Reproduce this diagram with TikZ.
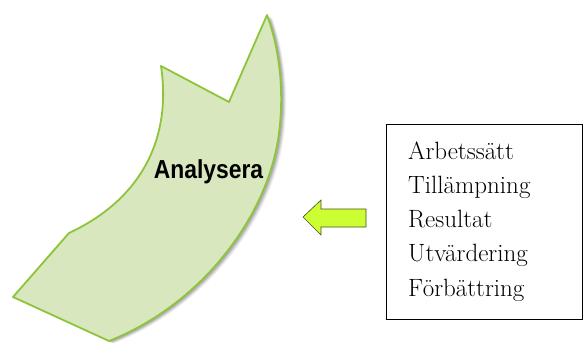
\documentclass[tikz,border=0pt]{standalone}
\usepackage{fontspec}
\newfontfamily\labelsans{Liberation Sans}
\definecolor{shapefill}{RGB}{216,231,190}
\definecolor{shapeline}{RGB}{142,196,58}
\definecolor{arrowfill}{RGB}{204,255,51}
\definecolor{arrowline}{RGB}{70,80,30}
\tikzset{
  shapestyle/.style={fill=shapefill, draw=shapeline, line width=1.8pt, line join=round},
  arrowstyle/.style={fill=arrowfill, draw=arrowline, line width=0.6pt, line join=miter},
  listbox/.style={draw=black, line width=1pt, minimum width=195.7pt, minimum height=195pt, anchor=north west, inner sep=0pt},
  listitem/.style={font=\fontsize{25}{29}\selectfont, anchor=base west, inner sep=0pt},
  bigword/.style={font=\labelsans\bfseries\fontsize{26}{30}\selectfont, anchor=base, inner sep=0pt}
}
\begin{document}
\begin{tikzpicture}[x=1pt,y=-1pt]
\useasboundingbox (0,0) rectangle (583,345);
\def\shapepath{(267,15) -- (229,102) -- (161,66) .. controls (172,140) and (140,200) .. (69,233) -- (13,297) -- (109,341) .. controls (200,305) and (265,220) .. (278,140) .. controls (285,95) and (280,50) .. (267,15) -- cycle}
% soft shadow
\foreach \d/\o in {5/0.06,4/0.08,3/0.10,2/0.12}{
  \fill[black, opacity=\o, shift={(\d pt,-0.5*\d pt)}] \shapepath;
}
\path[shapestyle] \shapepath;
\node[bigword] (ana) at (208.5,178.3) {\scalebox{0.88}[1]{Analysera}};
% arrow
\path[arrowstyle] (303,217) -- (321,200) -- (321,209) -- (366,209) -- (366,227) -- (321,227) -- (321,235) -- cycle;
% box
\node[listbox] (box) at (386,124) {};
\node[listitem] (l1) at (408,159) {Arbetssätt};
\node[listitem] (l2) at (408,193.3) {Tillämpning};
\node[listitem] (l3) at (408,227.6) {Resultat};
\node[listitem] (l4) at (408,261.9) {Utvärdering};
\node[listitem] (l5) at (408,296.2) {Förbättring};
\end{tikzpicture}
\end{document}
